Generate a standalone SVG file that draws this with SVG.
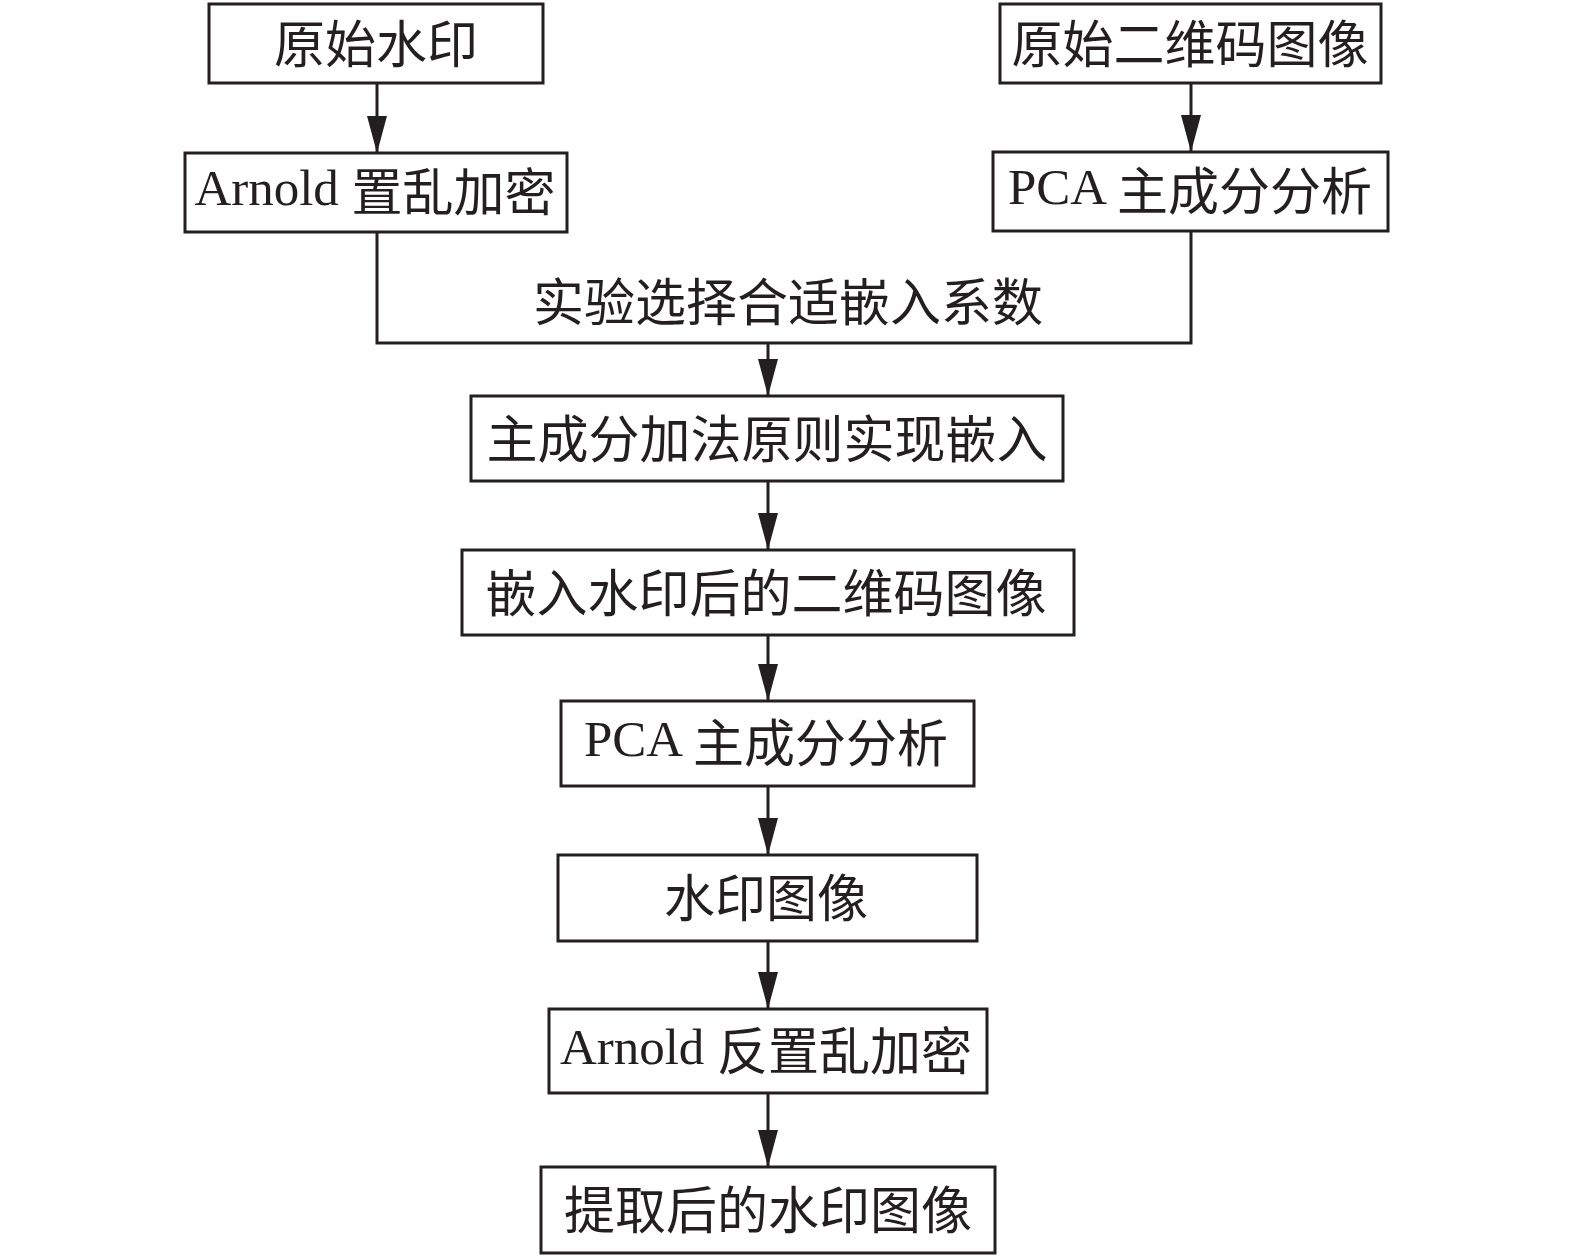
<svg xmlns="http://www.w3.org/2000/svg" width="1575" height="1258" viewBox="0 0 1575 1258">
<style>
.box{fill:#fff;stroke:#231f20;stroke-width:3}
.t{font-family:"Liberation Serif","Noto Sans CJK SC",serif;font-size:51px;fill:#231f20;text-anchor:middle}
.ln{fill:none;stroke:#231f20;stroke-width:3}
</style>
<defs>
<marker id="ah" markerWidth="38" markerHeight="22" refX="37" refY="11" orient="auto" markerUnits="userSpaceOnUse">
<path d="M0,1 L37,11 L0,21 z" fill="#231f20"/>
</marker>
</defs>
<rect width="1575" height="1258" fill="#fff"/>
<g id="connectors">
<line class="ln" x1="377" y1="83" x2="377" y2="153" marker-end="url(#ah)"/>
<line class="ln" x1="1191" y1="83" x2="1191" y2="152" marker-end="url(#ah)"/>
<path class="ln" d="M377,232 V343 H1191 V231"/>
<line class="ln" x1="768" y1="343" x2="768" y2="396" marker-end="url(#ah)"/>
<line class="ln" x1="768" y1="481" x2="768" y2="550" marker-end="url(#ah)"/>
<line class="ln" x1="768" y1="635" x2="768" y2="701" marker-end="url(#ah)"/>
<line class="ln" x1="768" y1="786" x2="768" y2="855" marker-end="url(#ah)"/>
<line class="ln" x1="768" y1="941" x2="768" y2="1009" marker-end="url(#ah)"/>
<line class="ln" x1="768" y1="1093" x2="768" y2="1167" marker-end="url(#ah)"/>
<text id="label-coef" class="t" x="788" y="321">实验选择合适嵌入系数</text>
</g>
<g id="n1"><rect class="box" x="209" y="4" width="334" height="79"/><text class="t" x="376" y="63">原始水印</text></g>
<g id="n2"><rect class="box" x="185" y="153" width="382" height="79"/><text class="t" x="375" y="205">Arnold <tspan dy="6">置乱加密</tspan></text></g>
<g id="n3"><rect class="box" x="1000" y="4" width="381" height="79"/><text class="t" x="1190" y="63">原始二维码图像</text></g>
<g id="n4"><rect class="box" x="993" y="152" width="395" height="79"/><text class="t" x="1190" y="204">PCA <tspan dy="6">主成分分析</tspan></text></g>
<g id="n5"><rect class="box" x="471" y="396" width="592" height="85"/><text class="t" x="767" y="458">主成分加法原则实现嵌入</text></g>
<g id="n6"><rect class="box" x="462" y="550" width="612" height="85"/><text class="t" x="766" y="612">嵌入水印后的二维码图像</text></g>
<g id="n7"><rect class="box" x="561" y="701" width="413" height="85"/><text class="t" x="766" y="756">PCA <tspan dy="6">主成分分析</tspan></text></g>
<g id="n8"><rect class="box" x="558" y="855" width="419" height="86"/><text class="t" x="766" y="917">水印图像</text></g>
<g id="n9"><rect class="box" x="549" y="1009" width="438" height="84"/><text class="t" x="766" y="1064">Arnold <tspan dy="6">反置乱加密</tspan></text></g>
<g id="n10"><rect class="box" x="541" y="1167" width="454" height="86"/><text class="t" x="768" y="1229">提取后的水印图像</text></g>
</svg>
